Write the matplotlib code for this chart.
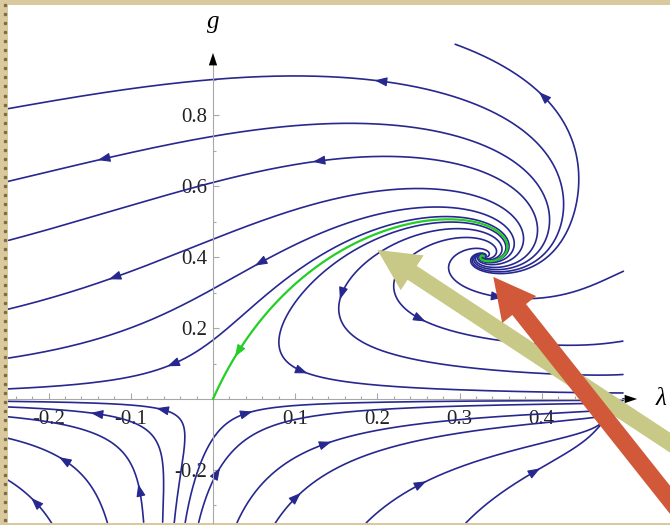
import math

import matplotlib

matplotlib.use('Agg')

import matplotlib.pyplot as plt
import matplotlib.ticker as ticker
import numpy as np

plt.rcParams.update({
    'font.family': 'Liberation Serif',
    'font.size': 15,
    'axes.linewidth': 0.8,
})

# Einstein-Hilbert truncation, sharp cutoff
ZETA2 = math.pi ** 2 / 6
ZETA3 = 1.2020569031595942

LAM_RANGE = (-0.25, 0.5)
G_RANGE = (-0.35, 1.0)

# streamline seeds (lambda, g)
upper_lam = [0.0, 0.0, 0.0, 0.0, 0.0, 0.0, 0.404]
upper_g = [0.90, 0.74, 0.61, 0.45, 0.31, 0.166, 0.848]
right_lam = [0.49, 0.49, 0.49, 0.49]
right_g = [0.35, 0.16, 0.068, 0.017]
lower_lam = [-0.202, -0.131, -0.085, -0.061, -0.052, 0.041, 0.0085,
             0.033, 0.0815, 0.195, 0.316]
lower_g = [-0.33, -0.33, -0.33, -0.33, -0.037, -0.040, -0.194,
           -0.33, -0.33, -0.33, -0.33]

# arrowhead position along each line (fraction of its length)
upper_arrow = [0.52, 0.87, 0.53, 0.83, 0.56, 0.73, 0.75]
right_arrow = [0.5, 0.5, 0.42, 0.54]
lower_arrow = [0.5, 0.6, 0.19, 0.65, 0.47, 0.27, 0.12,
               0.3, 0.1, 0.25, 0.45]

NAVY = '#27288f'
GREEN = '#22cf22'
OLIVE = '#c9c987'
RED = '#d2583a'


def beta(lam, g):
    lam = min(lam, 0.4999)
    one = 1.0 - 2.0 * lam
    L = math.log(one)
    eta = -2.0 * g / (6 * math.pi + 5 * g) * (18.0 / one + 5 * L - ZETA2 + 6.0)
    b_lam = -(2.0 - eta) * lam - g / math.pi * (5 * L - 2 * ZETA3 + 1.25 * eta)
    b_g = (2.0 + eta) * g
    return b_lam, b_g


def fixed_point(lam, g):
    for _ in range(40):
        f = np.array(beta(lam, g))
        h = 1e-7
        J = np.column_stack([(np.array(beta(lam + h, g)) - f) / h,
                             (np.array(beta(lam, g + h)) - f) / h])
        d = np.linalg.solve(J, -f)
        lam, g = lam + d[0], g + d[1]
    return lam, g


fig = plt.figure(figsize=(6.7, 5.25), dpi=100, facecolor='#d9c99c')
ax = fig.add_axes([8 / 670, 2 / 525, 662 / 670, 518 / 525])
ax.set_facecolor('white')
xlim = (-0.2494, 0.5560)
ylim = (-0.3493, 1.1099)
ax.set_xlim(*xlim)
ax.set_ylim(*ylim)

# pixels per data unit, used to step evenly on screen
SX = 662 / (xlim[1] - xlim[0])
SY = 518 / (ylim[1] - ylim[0])

LAM_FP, G_FP = fixed_point(0.33, 0.40)


def direction(lam, g, sign):
    bl, bg = beta(lam, g)
    vx, vy = -sign * bl, -sign * bg
    n = math.hypot(vx * SX, vy * SY)
    if n < 1e-12:
        return 0.0, 0.0
    return vx / n, vy / n


def trace(lam, g, sign, h=1.2, nmax=3500):
    pts = [(lam, g)]
    for _ in range(nmax):
        k1 = direction(lam, g, sign)
        k2 = direction(lam + h / 2 * k1[0], g + h / 2 * k1[1], sign)
        k3 = direction(lam + h / 2 * k2[0], g + h / 2 * k2[1], sign)
        k4 = direction(lam + h * k3[0], g + h * k3[1], sign)
        lam += h / 6 * (k1[0] + 2 * k2[0] + 2 * k3[0] + k4[0])
        g += h / 6 * (k1[1] + 2 * k2[1] + 2 * k3[1] + k4[1])
        if not (LAM_RANGE[0] <= lam <= LAM_RANGE[1] and G_RANGE[0] <= g <= G_RANGE[1]):
            break
        if math.hypot((lam - LAM_FP) * SX, (g - G_FP) * SY) < 1.5:
            pts.append((LAM_FP, G_FP))
            break
        pts.append((lam, g))
    return pts


def streamline(lam0, g0):
    uv = trace(lam0, g0, -1)[::-1]
    ir = trace(lam0, g0, +1)
    return np.array(uv + ir[1:])


def draw_line(pts, frac, color, lw=1.2, z=2):
    ax.plot(pts[:, 0], pts[:, 1], color=color, lw=lw, zorder=z, solid_capstyle='round')
    seg = np.hypot(np.diff(pts[:, 0]) * SX, np.diff(pts[:, 1]) * SY)
    s = np.concatenate([[0], np.cumsum(seg)])
    i = int(np.searchsorted(s, frac * s[-1]))
    i = min(max(i, 4), len(pts) - 1)
    ax.annotate('', xy=pts[i], xytext=pts[i - 4],
                arrowprops=dict(arrowstyle='-|>,head_length=0.75,head_width=0.28',
                                fc=color, ec=color, lw=0.8, shrinkA=0, shrinkB=0,
                                mutation_scale=10),
                zorder=z)


for lam0, g0, f in zip(upper_lam + right_lam + lower_lam,
                       upper_g + right_g + lower_g,
                       upper_arrow + right_arrow + lower_arrow):
    draw_line(streamline(lam0, g0), f, NAVY)

# separatrix from the Gaussian to the non-Gaussian fixed point
g_start = 0.002
sep = trace(2 * ZETA3 / math.pi / 4 * g_start, g_start, -1)
sep = np.array([(0.0, 0.0)] + sep)[::-1]
draw_line(sep, 0.885, GREEN, lw=1.6, z=3)

# axes through the origin
for side in ('top', 'right'):
    ax.spines[side].set_visible(False)
ax.spines['left'].set_position(('data', 0))
ax.spines['bottom'].set_position(('data', 0))
ax.spines['left'].set_bounds(ylim[0], 0.95)
ax.spines['bottom'].set_bounds(xlim[0], 0.505)
for side in ('left', 'bottom'):
    ax.spines[side].set_color('#a8a8a8')

ax.set_xticks([-0.2, -0.1, 0.1, 0.2, 0.3, 0.4])
ax.set_yticks([-0.2, 0.2, 0.4, 0.6, 0.8])
ax.xaxis.set_major_formatter(ticker.FormatStrFormatter('%.1f'))
ax.yaxis.set_major_formatter(ticker.FormatStrFormatter('%.1f'))
ax.xaxis.set_minor_locator(ticker.FixedLocator(np.arange(-0.24, 0.50, 0.02)))
ax.yaxis.set_minor_locator(ticker.FixedLocator([-0.3, -0.1, 0.1, 0.3, 0.5, 0.7, 0.9]))
ax.tick_params(which='both', direction='in', color='#a8a8a8', width=0.8)
ax.tick_params(which='major', length=4.5)
ax.tick_params(which='minor', length=2.5)
ax.tick_params(axis='x', pad=8, labelcolor='#222222')
ax.tick_params(axis='y', pad=4, labelcolor='#222222')

for tip, tail in (((0, 0.975), (0, 0.94)), ((0.516, 0), (0.49, 0))):
    ax.annotate('', xy=tip, xytext=tail, annotation_clip=False,
                arrowprops=dict(arrowstyle='-|>,head_length=0.9,head_width=0.3',
                                fc='black', ec='black', lw=0, shrinkA=0, shrinkB=0,
                                mutation_scale=10))
ax.text(0, 1.062, 'g', ha='center', va='center', fontsize=18, style='italic')
ax.text(0.538, 0.0, 'λ', ha='left', va='center', fontsize=18, style='italic')

# highlighting arrows: separatrix and fixed point
ax.annotate('', xy=(0.200, 0.420), xytext=(0.629, -0.234), annotation_clip=False,
            arrowprops=dict(arrowstyle='simple,head_length=2.5,head_width=2.5,tail_width=1.0',
                            fc=OLIVE, ec='none', shrinkA=0, shrinkB=0, mutation_scale=12),
            zorder=5)
ax.annotate('', xy=(0.341, 0.344), xytext=(0.617, -0.462), annotation_clip=False,
            arrowprops=dict(arrowstyle='simple,head_length=2.5,head_width=2.6,tail_width=1.05',
                            fc=RED, ec='none', shrinkA=0, shrinkB=0, mutation_scale=12),
            zorder=6)

# speckled frame on the left
fig.add_artist(plt.Line2D(np.full(58, 4.5 / 670), np.linspace(0.01, 0.99, 58),
                          transform=fig.transFigure, ls='none', marker='s',
                          ms=1.6, color='#6f6040', alpha=0.8))

fig.savefig('out.png', dpi=100, facecolor=fig.get_facecolor())
